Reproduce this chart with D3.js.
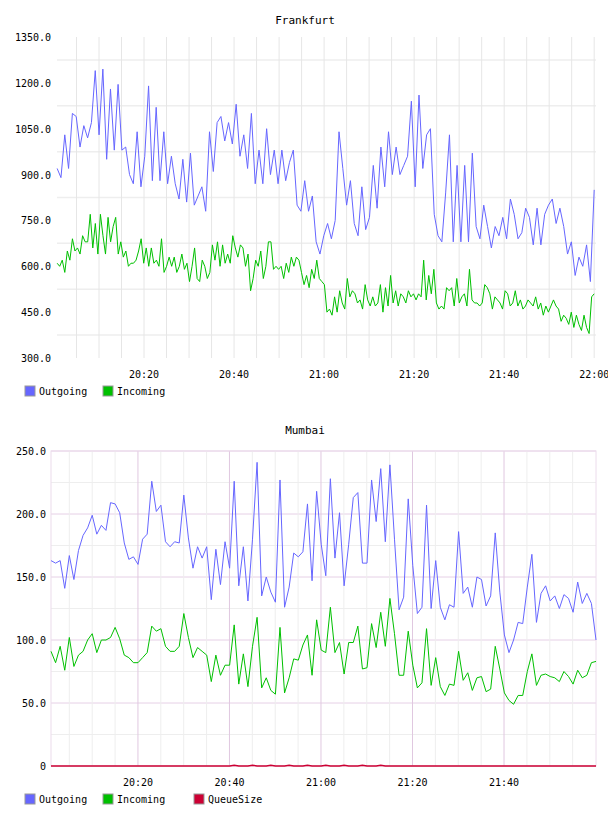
<!DOCTYPE html><html><head><meta charset="utf-8"><script src="https://cdn.jsdelivr.net/npm/d3@7"></script>
<style>body{margin:0;background:#fff}text{font-family:"DejaVu Sans Mono",monospace;font-size:10px;fill:#000}</style></head><body><svg id="c" width="608" height="816"></svg><script>
const frankOut=[920,890,1030,920,1100,1090,990,1060,1020,1070,1240,1030,1245,950,1180,980,1195,980,990,900,870,1040,860,960,1190,880,1120,880,1040,870,960,870,820,950,810,970,800,830,860,780,1040,910,1070,1090,1010,1070,1000,1130,960,1030,920,1100,870,980,870,1050,900,980,870,980,880,940,980,800,780,880,780,830,680,640,700,740,690,750,1040,920,800,880,740,700,860,720,760,930,790,990,860,1040,900,990,900,930,960,1140,860,1160,920,1030,1050,770,700,680,840,1030,680,930,680,930,680,970,730,690,800,730,660,730,700,760,690,820,770,690,710,790,760,670,790,670,770,800,820,740,790,730,640,680,570,630,600,670,550,850];
const frankIn=[610,600,620,580,650,620,690,650,660,640,700,680,680,770,660,740,640,770,700,640,760,680,730,760,640,680,630,650,600,610,610,620,650,690,610,660,600,660,610,620,600,690,580,600,630,600,630,580,600,640,590,610,550,600,660,560,550,620,600,560,580,670,620,680,600,670,610,640,610,700,660,630,670,660,600,640,520,560,620,600,650,560,600,680,680,590,600,590,600,560,610,580,630,600,630,620,580,540,570,530,590,560,620,560,550,540,450,460,440,500,450,520,480,460,560,500,520,510,480,490,460,540,490,470,500,470,480,540,450,530,470,570,480,520,470,510,500,480,520,500,510,490,510,500,620,490,570,510,590,480,460,470,460,530,520,530,470,560,480,500,510,470,590,490,480,480,470,480,540,530,510,460,500,490,480,460,520,510,470,480,520,470,490,460,470,490,480,470,500,460,480,440,470,450,470,490,470,460,420,440,430,410,450,400,440,410,390,440,400,380,500,510];
const mumOut=[163,161,163,141,167,148,171,183,189,199,184,191,187,209,208,201,177,164,166,160,180,184,226,202,207,178,174,178,177,215,181,157,174,165,174,132,172,144,178,157,226,143,174,131,180,241,135,150,138,130,227,126,142,169,166,170,208,147,218,176,151,228,165,201,143,176,213,217,161,161,227,194,236,178,239,180,124,134,212,159,121,126,207,125,163,126,116,128,126,186,137,142,126,150,148,127,135,185,138,104,90,100,114,113,142,168,114,137,143,131,135,125,136,133,122,146,129,137,129,100];
const mumIn=[91,82,95,76,102,79,88,91,100,105,90,100,100,102,110,101,88,86,82,82,86,90,111,107,109,95,91,91,95,121,102,86,94,91,88,67,88,72,80,80,112,65,89,63,95,118,62,70,60,57,110,58,70,85,84,96,104,72,116,92,90,126,90,98,73,98,98,111,77,78,113,94,122,95,133,105,72,72,107,80,62,66,109,64,86,63,56,65,64,91,68,74,60,70,71,59,61,95,77,58,52,49,56,56,75,89,64,72,73,71,70,67,75,71,65,76,70,72,82,83];
const mumQueue=mumOut.map((d,i)=>(i>38&&i<75&&i%4===0)?0.6:0);
const frankTicks=[1350,1200,1050,900,750,600,450,300];
const mumTicks=[0,50,100,150,200,250];
const timeLabelsTop=["20:20","20:40","21:00","21:20","21:40","22:00"];
const timeLabelsBot=["20:20","20:40","21:00","21:20","21:40"];
const C={out:"#6666ff",inc:"#00c000",q:"#cc0033"};
const svg=d3.select("#c");
const t0=new Date(2020,0,1,20,0);
const tm=m=>new Date(+t0+m*60000);
const fmt=d3.timeFormat("%H:%M");
function series(vals,s,e){const st=(e-s)/(vals.length-1);return vals.map((v,i)=>({t:tm(s+i*st),v}));}

// Frankfurt
{const L=54,R=596,T=37,B=358;
const x=d3.scaleTime().domain([tm(0),tm(120.4)]).range([L,R]);
const y=d3.scaleLinear().domain([300,1350]).range([B,T]);
const g=svg.append("g");
g.selectAll(".hg").data(d3.range(375,1350,150)).join("line").attr("x1",L+3).attr("x2",R).attr("y1",d=>y(d)).attr("y2",d=>y(d)).attr("stroke","#eee").attr("stroke-width",1.5);
g.selectAll(".vg").data(d3.range(5,121,5)).join("line").attr("x1",d=>x(tm(d))).attr("x2",d=>x(tm(d))).attr("y1",T).attr("y2",B).attr("stroke","#e6e6e6");
g.selectAll(".yl").data(frankTicks).join("text").attr("x",L-3).attr("y",d=>y(d)+4).attr("text-anchor","end").text(d=>d.toFixed(1));
g.selectAll(".xl").data(timeLabelsTop).join("text").attr("x",d=>{const[h,m]=d.split(":");return x(tm((h-20)*60+ +m));}).attr("y",B+20).attr("text-anchor","middle").text(d=>d);
const ln=d3.line().x(d=>x(d.t)).y(d=>y(d.v));
g.append("path").attr("d",ln(series(frankOut,0.7,120))).attr("fill","none").attr("stroke",C.out).attr("stroke-width",1);
g.append("path").attr("d",ln(series(frankIn,0.7,120))).attr("fill","none").attr("stroke",C.inc).attr("stroke-width",1);
svg.append("text").attr("x",305).attr("y",24).attr("text-anchor","middle").style("font-size","11px").text("Frankfurt");
legend(396,[["Outgoing",C.out],["Incoming",C.inc]]);}

// Mumbai
{const L=51,R=596,T=451,B=766;
const x=d3.scaleTime().domain([tm(1),tm(120.1)]).range([L,R]);
const y=d3.scaleLinear().domain([0,250]).range([B,T]);
const g=svg.append("g");
g.selectAll(".hm").data(d3.range(25,250,50)).join("line").attr("x1",L).attr("x2",R).attr("y1",d=>y(d)).attr("y2",d=>y(d)).attr("stroke","#eeeeee");
g.selectAll(".hM").data(d3.range(50,251,50)).join("line").attr("x1",L).attr("x2",R).attr("y1",d=>y(d)).attr("y2",d=>y(d)).attr("stroke","#e6d0e6");
g.selectAll(".vg").data(d3.range(5,120,5)).join("line").attr("x1",d=>x(tm(d))).attr("x2",d=>x(tm(d))).attr("y1",T).attr("y2",B).attr("stroke",d=>d%20===0?"#e0c8e0":"#eeeeee");
g.append("rect").attr("x",L).attr("y",T).attr("width",R-L).attr("height",B-T).attr("fill","none").attr("stroke","#ecdcec");
g.selectAll(".yl").data(mumTicks).join("text").attr("x",L-5).attr("y",d=>y(d)+4).attr("text-anchor","end").text(d=>d===0?"0":d.toFixed(1));
g.selectAll(".xl").data(timeLabelsBot).join("text").attr("x",d=>{const[h,m]=d.split(":");return x(tm((h-20)*60+ +m));}).attr("y",B+20).attr("text-anchor","middle").text(d=>d);
const ln=d3.line().x(d=>x(d.t)).y(d=>y(d.v));
g.append("path").attr("d",ln(series(mumOut,1,120.1))).attr("fill","none").attr("stroke",C.out);
g.append("path").attr("d",ln(series(mumIn,1,120.1))).attr("fill","none").attr("stroke",C.inc);
g.append("path").attr("d",ln(series(mumQueue,1,120.1))).attr("fill","none").attr("stroke",C.q).attr("stroke-width",1.5);
svg.append("text").attr("x",305).attr("y",434).attr("text-anchor","middle").style("font-size","11px").text("Mumbai");
legend(804,[["Outgoing",C.out],["Incoming",C.inc],["QueueSize",C.q]]);}

function legend(yb,items){let xs=[25,103,194];items.forEach(([n,c],i)=>{svg.append("rect").attr("x",xs[i]).attr("y",yb-10).attr("width",10).attr("height",10).attr("fill",c).attr("stroke","#999");svg.append("text").attr("x",xs[i]+14).attr("y",yb-1).text(n);});}
</script></body></html>
